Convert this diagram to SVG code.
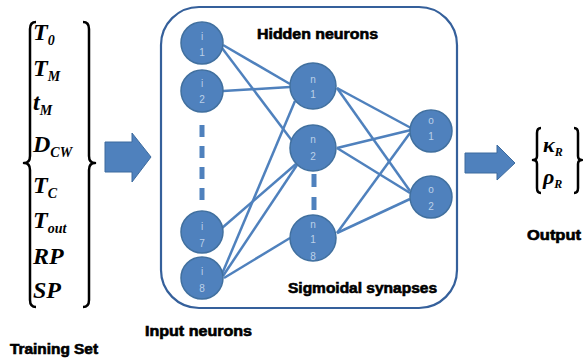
<svg xmlns="http://www.w3.org/2000/svg" width="583" height="360" viewBox="0 0 583 360">
<style>
.node{fill:#4f81bd;stroke:#41709f;stroke-width:1.5}
.nl{font-family:"Liberation Sans",Arial,sans-serif;font-size:10px;fill:#bcd0e8;text-anchor:middle}
.lbl{font-family:"Liberation Sans",Arial,sans-serif;font-weight:bold;font-size:14px;fill:#000;stroke:#000;stroke-width:0.6}
.math{font-family:"Liberation Serif","Times New Roman",serif;font-weight:bold;font-style:italic;font-size:24px;fill:#000}
.sub{font-size:14px}
.brace{fill:none;stroke:#000;stroke-width:2.5;stroke-linejoin:round}
.conn{stroke:#4f81bd;stroke-width:2.5;fill:none}
.dash{stroke:#4f81bd;stroke-width:5;fill:none}
.arrow{fill:#4f81bd;stroke:#3d6b9e;stroke-width:1}
</style>
<rect x="0" y="0" width="583" height="360" fill="#fff"/>

<g id="training-set">
<path class="brace" d="M36,22 Q30,22 30,29 L30,156 Q30,163 24,163 Q30,163 30,170 L30,300 Q30,307 36,307"/>
<path class="brace" d="M83,22 Q89,22 89,29 L89,156 Q89,163 95,163 Q89,163 89,170 L89,300 Q89,307 83,307"/>
<text class="math" x="33" y="40">T<tspan class="sub" dy="5">0</tspan></text>
<text class="math" x="33" y="76">T<tspan class="sub" dy="5">M</tspan></text>
<text class="math" x="33" y="110">t<tspan class="sub" dy="5">M</tspan></text>
<text class="math" x="33" y="152">D<tspan class="sub" dy="5">CW</tspan></text>
<text class="math" x="33" y="193">T<tspan class="sub" dy="5">C</tspan></text>
<text class="math" x="33" y="228">T<tspan class="sub" dy="5">out</tspan></text>
<text class="math" x="33" y="264">RP</text>
<text class="math" x="33" y="298">SP</text>
<text class="lbl" x="10" y="354" textLength="88" lengthAdjust="spacingAndGlyphs">Training Set</text>
</g>

<g id="arrow-in">
<path class="arrow" d="M105,142 L132,142 L132,133 L151,157 L132,182 L132,172 L105,172 Z"/>
</g>

<g id="network-box">
<rect x="161" y="7" width="296" height="301" rx="38" ry="38" fill="none" stroke="#35609b" stroke-width="2.2"/>
<text class="lbl" x="257" y="39" textLength="121" lengthAdjust="spacingAndGlyphs">Hidden neurons</text>
<text class="lbl" x="288" y="293" textLength="149" lengthAdjust="spacingAndGlyphs">Sigmoidal synapses</text>
</g>

<g id="connectors">
<line class="conn" x1="223" y1="45" x2="290" y2="84"/>
<line class="conn" x1="222" y1="48" x2="293" y2="142"/>
<line class="conn" x1="223" y1="91" x2="290" y2="87"/>
<line class="conn" x1="222" y1="228" x2="296" y2="164"/>
<line class="conn" x1="222" y1="274" x2="295" y2="101"/>
<line class="conn" x1="223" y1="276" x2="297" y2="165"/>
<line class="conn" x1="224" y1="278" x2="290" y2="238"/>
<line class="conn" x1="337" y1="88" x2="411" y2="128"/>
<line class="conn" x1="337" y1="88" x2="410" y2="191"/>
<line class="conn" x1="337" y1="148" x2="411" y2="130"/>
<line class="conn" x1="337" y1="148" x2="410" y2="193"/>
<line class="conn" x1="337" y1="233" x2="410" y2="133"/>
<line class="conn" x1="337" y1="233" x2="410" y2="199"/>
<line class="dash" x1="202" y1="125" x2="202" y2="207" stroke-dasharray="12 9"/>
<line class="dash" x1="314" y1="174" x2="314" y2="211" stroke-dasharray="13 10"/>
</g>

<g id="i1"><circle class="node" cx="202" cy="43" r="21"/><text class="nl" x="202" y="40">i</text><text class="nl" x="202" y="56">1</text></g>
<g id="i2"><circle class="node" cx="202" cy="91" r="21"/><text class="nl" x="202" y="87">i</text><text class="nl" x="202" y="103">2</text></g>
<g id="i7"><circle class="node" cx="202" cy="232" r="21"/><text class="nl" x="202" y="230">i</text><text class="nl" x="202" y="247">7</text></g>
<g id="i8"><circle class="node" cx="202" cy="278" r="21"/><text class="nl" x="202" y="275">i</text><text class="nl" x="202" y="292">8</text></g>

<g id="n1"><circle class="node" cx="313" cy="86" r="23"/><text class="nl" x="313" y="83">n</text><text class="nl" x="313" y="98">1</text></g>
<g id="n2"><circle class="node" cx="313" cy="148" r="23"/><text class="nl" x="313" y="143">n</text><text class="nl" x="313" y="160">2</text></g>
<g id="n18"><circle class="node" cx="313" cy="238" r="23"/><text class="nl" x="313" y="228">n</text><text class="nl" x="313" y="243">1</text><text class="nl" x="313" y="260">8</text></g>

<g id="o1"><circle class="node" cx="431" cy="131" r="21"/><text class="nl" x="431" y="124">o</text><text class="nl" x="431" y="140">1</text></g>
<g id="o2"><circle class="node" cx="431" cy="197" r="21"/><text class="nl" x="431" y="193">o</text><text class="nl" x="431" y="210">2</text></g>

<g id="arrow-out">
<path class="arrow" d="M465,153 L497,153 L497,145 L515,163 L497,180 L497,173 L465,173 Z"/>
</g>

<g id="output">
<path class="brace" d="M541,128 Q537,128 537,133 L537,156 Q537,160 533,160 Q537,160 537,164 L537,188 Q537,193 541,193" stroke-width="2"/>
<path class="brace" d="M574,128 Q578,128 578,133 L578,156 Q578,160 582,160 Q578,160 578,164 L578,188 Q578,193 574,193" stroke-width="2"/>
<text class="math" x="543" y="152" style="font-size:22px">κ<tspan class="sub" dy="4" style="font-size:12px">R</tspan></text>
<text class="math" x="543" y="184" style="font-size:22px">ρ<tspan class="sub" dy="4" style="font-size:12px">R</tspan></text>
<text class="lbl" x="527" y="240" textLength="54" lengthAdjust="spacingAndGlyphs">Output</text>
</g>

<g id="input-label">
<text class="lbl" x="145" y="336" textLength="107" lengthAdjust="spacingAndGlyphs">Input neurons</text>
</g>
</svg>
